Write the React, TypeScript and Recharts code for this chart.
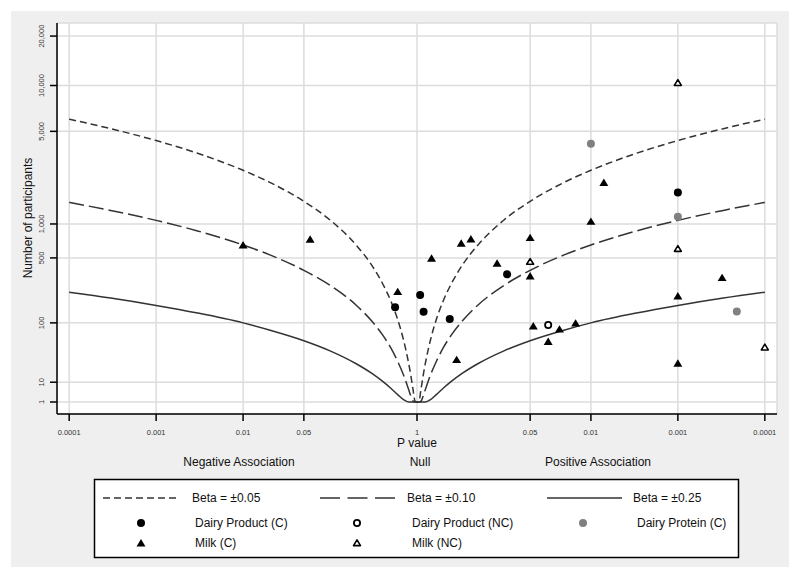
import React from 'react';
import { ComposedChart, Line, Scatter, XAxis, YAxis, CartesianGrid, Label } from 'recharts';

// ---- Data ----
// x axis: two-sided P value, side -1 = negative association, +1 = positive association
const xTickP = [0.0001, 0.001, 0.01, 0.05, 1, 0.05, 0.01, 0.001, 0.0001];
const xTickSide = [-1, -1, -1, -1, 0, 1, 1, 1, 1];
const xTickLabels = ['0.0001', '0.001', '0.01', '0.05', '1', '0.05', '0.01', '0.001', '0.0001'];

const yTickN = [1, 10, 100, 500, 1000, 5000, 10000, 20000];
const yTickLabels = ['1', '10', '100', '500', '1,000', '5,000', '10,000', '20,000'];

// contour lines: number of participants at given P values
const contourP = [0.0001, 0.0003, 0.001, 0.003, 0.01, 0.02, 0.05, 0.1, 0.2, 0.3, 0.4, 0.5, 0.6, 0.7, 0.8, 0.85, 0.9, 0.95, 1];
const beta005N = [6040, 5215, 4320, 3515, 2645, 2160, 1530, 1080, 654, 429, 282, 182, 110, 59, 25.5, 14.3, 6.3, 1.6, 1];
const beta010N = [1500, 1295, 1072, 872, 657, 536, 380, 268, 163, 106, 70, 45, 27, 14.7, 6.3, 3.5, 1.6, 1, 1];
const beta025N = [227, 196, 162, 132, 100, 81, 57.6, 40.6, 24.6, 16.1, 10.6, 6.8, 4.1, 2.2, 1, 1, 1, 1, 1];

const dairyProductC = [
  { side: -1, p: 0.56, n: 154 },
  { side: 1, p: 0.92, n: 212 },
  { side: 1, p: 0.84, n: 137 },
  { side: 1, p: 0.42, n: 112 },
  { side: 1, p: 0.092, n: 347 },
  { side: 1, p: 0.001, n: 1800 },
];
const dairyProductNC = [{ side: 1, p: 0.031, n: 94 }];
const dairyProteinC = [
  { side: 1, p: 0.01, n: 4100 },
  { side: 1, p: 0.001, n: 1150 },
  { side: 1, p: 0.00021, n: 138 },
];
const milkC = [
  { side: -1, p: 0.01, n: 655 },
  { side: -1, p: 0.059, n: 738 },
  { side: -1, p: 0.6, n: 230 },
  { side: 1, p: 0.68, n: 496 },
  { side: 1, p: 0.31, n: 680 },
  { side: 1, p: 0.24, n: 742 },
  { side: 1, p: 0.35, n: 29 },
  { side: 1, p: 0.12, n: 445 },
  { side: 1, p: 0.05, n: 762 },
  { side: 1, p: 0.05, n: 334 },
  { side: 1, p: 0.046, n: 91 },
  { side: 1, p: 0.031, n: 56 },
  { side: 1, p: 0.023, n: 83 },
  { side: 1, p: 0.015, n: 99 },
  { side: 1, p: 0.01, n: 1050 },
  { side: 1, p: 0.0071, n: 2140 },
  { side: 1, p: 0.001, n: 206 },
  { side: 1, p: 0.001, n: 25 },
  { side: 1, p: 0.00031, n: 321 },
];
const milkNC = [
  { side: 1, p: 0.05, n: 461 },
  { side: 1, p: 0.001, n: 10400 },
  { side: 1, p: 0.001, n: 608 },
  { side: 1, p: 0.0001, n: 46 },
];

// ---- scale transforms ----
const px = (p: number, side: number) => (side === 0 ? 0 : side * -Math.log10(p));
const ny = (n: number) => Math.pow(Math.log10(n), 2);
const toPts = (arr: { side: number; p: number; n: number }[]) =>
  arr.map((d) => ({ x: px(d.p, d.side), y: ny(d.n) }));

const contour = (ns: number[]) => {
  const left = contourP.map((p, i) => ({ x: p === 1 ? 0 : Math.log10(p), y: ny(ns[i]) }));
  const right = contourP
    .slice(0, -1)
    .map((p, i) => ({ x: -Math.log10(p), y: ny(ns[i]) }))
    .reverse();
  return [...left, ...right];
};

const xTicks = xTickP.map((p, i) => px(p, xTickSide[i]));
const yTicks = yTickN.map(ny);

const FONT = '"Liberation Sans", Arial, sans-serif';
const LINE = '#333';

const FilledCircle = (props: any) => <circle cx={props.cx} cy={props.cy} r={4} fill="#000" />;
const OpenCircle = (props: any) => (
  <circle cx={props.cx} cy={props.cy} r={3.1} fill="#fff" stroke="#000" strokeWidth={1.8} />
);
const GreyCircle = (props: any) => <circle cx={props.cx} cy={props.cy} r={4} fill="#808080" />;
const triPts = (cx: number, cy: number, s: number) =>
  `${cx},${cy - s} ${cx + s * 1.12},${cy + s * 0.85} ${cx - s * 1.12},${cy + s * 0.85}`;
const FilledTri = (props: any) => <polygon points={triPts(props.cx, props.cy, 4)} fill="#000" />;
const OpenTri = (props: any) => (
  <polygon points={triPts(props.cx, props.cy, 3.1)} fill="#fff" stroke="#000" strokeWidth={1.6} strokeLinejoin="round" />
);

const YTick = (props: any) => {
  const { y, index } = props;
  const tx = 44;
  return (
    <text
      x={tx}
      y={y}
      transform={`rotate(-90, ${tx}, ${y})`}
      textAnchor="middle"
      fontSize={7.5}
      fontFamily={FONT}
      fill="#333"
    >
      {yTickLabels[index]}
    </text>
  );
};

const XTick = (props: any) => {
  const { x, index } = props;
  return (
    <text x={x} y={435} textAnchor="middle" fontSize={7.5} fontFamily={FONT} fill="#333">
      {xTickLabels[index]}
    </text>
  );
};

const Annotations = () => (
  <g fontFamily={FONT} fontSize={12} fill="#111">
    <text x={417} y={447} textAnchor="middle">P value</text>
    <text x={239} y={466} textAnchor="middle">Negative Association</text>
    <text x={420} y={466} textAnchor="middle">Null</text>
    <text x={598} y={466} textAnchor="middle">Positive Association</text>
    <text x={32} y={218} textAnchor="middle" transform="rotate(-90, 32, 218)">Number of participants</text>
  </g>
);

const LegendBox = () => {
  const r1 = 498;
  const r2 = 523;
  const r3 = 543;
  const t = (x: number, y: number, s: string) => (
    <text x={x} y={y + 4} fontSize={12} fontFamily={FONT} fill="#111">{s}</text>
  );
  return (
    <svg width={800} height={578} style={{ position: 'absolute', left: 0, top: 0, pointerEvents: 'none' }}>
      <rect x={94.5} y={479.5} width={644} height={78} fill="#fff" stroke="#000" strokeWidth={1.5} />
      <line x1={103} y1={r1} x2={178} y2={r1} stroke={LINE} strokeWidth={1.5} strokeDasharray="7 4" />
      {t(192, r1, 'Beta = \u00b10.05')}
      <line x1={320} y1={r1} x2={395} y2={r1} stroke={LINE} strokeWidth={1.5} strokeDasharray="20 7.5" />
      {t(407, r1, 'Beta = \u00b10.10')}
      <line x1={547} y1={r1} x2={622} y2={r1} stroke={LINE} strokeWidth={1.5} />
      {t(633, r1, 'Beta = \u00b10.25')}
      <FilledCircle cx={141} cy={r2} />
      {t(195, r2, 'Dairy Product (C)')}
      <OpenCircle cx={357} cy={r2} />
      {t(412, r2, 'Dairy Product (NC)')}
      <GreyCircle cx={583} cy={r2} />
      {t(637, r2, 'Dairy Protein (C)')}
      <FilledTri cx={141} cy={r3} />
      {t(195, r3, 'Milk (C)')}
      <OpenTri cx={357} cy={r3} />
      {t(412, r3, 'Milk (NC)')}
    </svg>
  );
};

export default function App() {
  return (
    <div style={{ position: 'absolute', left: 0, top: 0, width: 800, height: 578, background: '#fff' }}>
      <div style={{ position: 'absolute', left: 11, top: 11, width: 778, height: 556, background: '#efefef' }} />
      <div style={{ position: 'absolute', left: 0, top: 0 }}>
        <ComposedChart width={800} height={578} margin={{ top: 23, right: 23, bottom: 134, left: 0 }}>
          <CartesianGrid fill="#fff" stroke="#dcdcdc" strokeWidth={1.5} />
          <XAxis
            type="number"
            dataKey="x"
            domain={[-4.14, 4.14]}
            ticks={xTicks}
            allowDataOverflow
            height={30}
            tickSize={7}
            tick={<XTick />}
            axisLine={{ stroke: '#000', strokeWidth: 1.5 }}
            tickLine={{ stroke: '#000', strokeWidth: 1.5 }}
            interval={0}
          >
            <Label content={() => <Annotations />} />
          </XAxis>
          <YAxis
            type="number"
            dataKey="y"
            domain={[-0.607, 19.16]}
            ticks={yTicks}
            allowDataOverflow
            width={57}
            tickSize={7}
            tick={<YTick />}
            axisLine={{ stroke: '#000', strokeWidth: 1.5 }}
            tickLine={{ stroke: '#000', strokeWidth: 1.5 }}
            interval={0}
          />
          <Line data={contour(beta005N)} dataKey="y" type="monotone" stroke={LINE} strokeWidth={1.5} strokeDasharray="7 4" dot={false} isAnimationActive={false} />
          <Line data={contour(beta010N)} dataKey="y" type="monotone" stroke={LINE} strokeWidth={1.5} strokeDasharray="15 5" dot={false} isAnimationActive={false} />
          <Line data={contour(beta025N)} dataKey="y" type="monotone" stroke={LINE} strokeWidth={1.5} dot={false} isAnimationActive={false} />
          <Scatter data={toPts(dairyProductC)} dataKey="y" shape={<FilledCircle />} isAnimationActive={false} />
          <Scatter data={toPts(dairyProductNC)} dataKey="y" shape={<OpenCircle />} isAnimationActive={false} />
          <Scatter data={toPts(dairyProteinC)} dataKey="y" shape={<GreyCircle />} isAnimationActive={false} />
          <Scatter data={toPts(milkC)} dataKey="y" shape={<FilledTri />} isAnimationActive={false} />
          <Scatter data={toPts(milkNC)} dataKey="y" shape={<OpenTri />} isAnimationActive={false} />
        </ComposedChart>
      </div>
      <LegendBox />
    </div>
  );
}
